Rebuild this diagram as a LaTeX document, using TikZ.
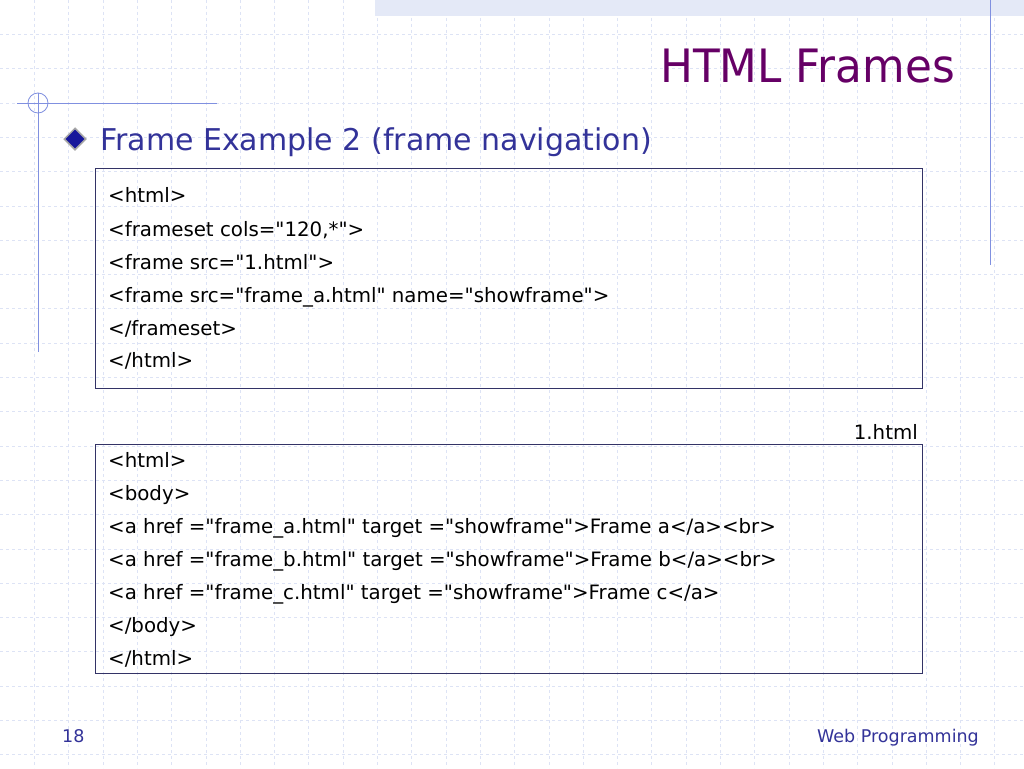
\documentclass[tikz,border=0pt]{standalone}
\usepackage{fontspec}
\usetikzlibrary{shapes.geometric}
\setmainfont{DejaVu Sans}[Ligatures=TeXOff]
\begin{document}
\begin{tikzpicture}[x=1pt,y=-1pt,
  code/.style={anchor=base west,inner sep=0pt,font=\fontsize{19.8}{19.8}\selectfont},
  box/.style={draw=boxc,line width=0.9pt}]
\definecolor{gridc}{HTML}{DDE3F5}
\definecolor{linec}{HTML}{8090E0}
\definecolor{boxc}{HTML}{333366}
\definecolor{titlec}{HTML}{660066}
\definecolor{subc}{HTML}{333399}
\useasboundingbox (0,0) rectangle (1024,768);
\fill[white] (0,0) rectangle (1024,768);
\foreach \i in {1,...,29} \draw[gridc,dashed,line width=0.6pt] (\i*34.3,0) -- (\i*34.3,768);
\foreach \i in {1,...,22} \draw[gridc,dashed,line width=0.6pt] (0,\i*34.3) -- (1024,\i*34.3);
\fill[gridc!80] (375,0) rectangle (1024,16);
\draw[linec,line width=0.8pt] (990,0) -- (990,265);
\draw[linec,line width=0.8pt] (17,103) -- (217,103);
\draw[linec,line width=0.8pt] (38,93) -- (38,352);
\draw[linec,line width=0.8pt] (38,103) circle (10);
\node[anchor=base east,inner sep=0pt,text=titlec,font=\fontsize{46}{46}\selectfont\addfontfeatures{FakeStretch=0.95}] (title) at (955,82) {HTML Frames};
\node[diamond,fill=subc!60!blue!80!black,draw=gray!70,line width=1.5pt,minimum size=22pt,inner sep=0pt] (bul) at (75,139) {};
\node[anchor=base west,inner sep=0pt,text=subc,font=\fontsize{30}{30}\selectfont] (sub) at (100,150) {Frame Example 2 (frame navigation)};
\draw[box] (95,168) rectangle (922,388);
\node[code] (a1) at (108,202) {<html>};
\node[code] (a2) at (108,236) {<frameset cols="120,*">};
\node[code] (a3) at (108,269) {<frame src="1.html">};
\node[code] (a4) at (108,302) {<frame src="frame\_a.html" name="showframe">};
\node[code] (a5) at (108,335) {</frameset>};
\node[code] (a6) at (108,367) {</html>};
\node[code,anchor=base east] (lab) at (918,439) {1.html};
\draw[box] (95,444) rectangle (922,673);
\node[code] (b1) at (108,467) {<html>};
\node[code] (b2) at (108,500) {<body>};
\node[code] (b3) at (108,533) {<a href ="frame\_a.html" target ="showframe">Frame a</a><br>};
\node[code] (b4) at (108,566) {<a href ="frame\_b.html" target ="showframe">Frame b</a><br>};
\node[code] (b5) at (108,599) {<a href ="frame\_c.html" target ="showframe">Frame c</a>};
\node[code] (b6) at (108,632) {</body>};
\node[code] (b7) at (108,665) {</html>};
\node[anchor=base west,inner sep=0pt,text=subc,font=\fontsize{17.5}{17.5}\selectfont] (pg) at (62,742) {18};
\node[anchor=base east,inner sep=0pt,text=subc,font=\fontsize{17.5}{17.5}\selectfont] (ft) at (979,742) {Web Programming};
\end{tikzpicture}
\end{document}
